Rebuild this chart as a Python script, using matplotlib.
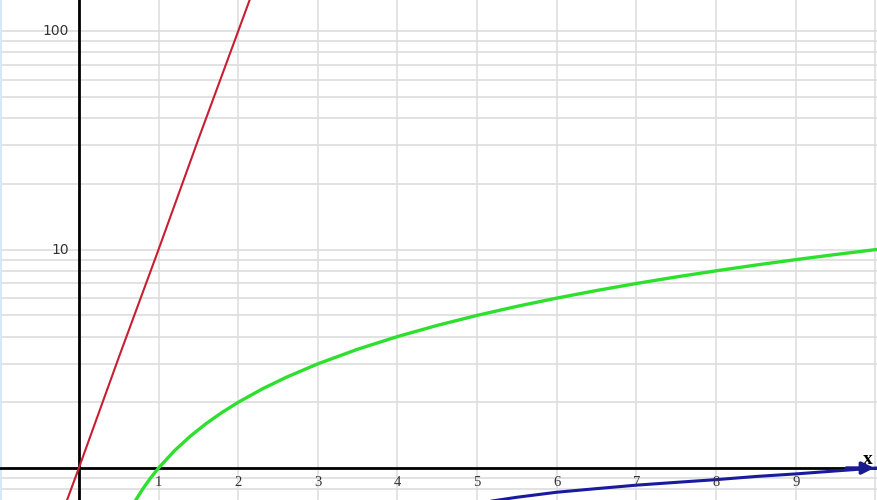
import matplotlib
matplotlib.use('Agg')
import matplotlib.pyplot as plt

# values
red_x = [-1, -0.5, 0, 0.5, 1, 1.5, 2, 2.2]
red_y = [0.1, 0.32, 1, 3.2, 10, 32, 100, 158]

green_x = [0.6, 0.7, 0.8, 0.9, 1, 1.2, 1.4, 1.6, 1.8, 2, 2.3, 2.6, 3, 3.5, 4, 4.5,
           5, 5.5, 6, 6.5, 7, 7.5, 8, 8.5, 9, 9.5, 10]
green_y = [0.6, 0.7, 0.8, 0.9, 1, 1.2, 1.4, 1.6, 1.8, 2, 2.3, 2.6, 3, 3.5, 4, 4.5,
           5, 5.5, 6, 6.5, 7, 7.5, 8, 8.5, 9, 9.5, 10]

blue_x = [4.8, 5, 5.5, 6, 6.5, 7, 7.5, 8, 8.5, 9, 9.5, 10]
blue_y = [0.66, 0.69, 0.735, 0.775, 0.805, 0.835, 0.86, 0.885, 0.915, 0.94, 0.97, 1.0]

x_ticks = [1, 2, 3, 4, 5, 6, 7, 8, 9]
y_ticks = [10, 100]

fig = plt.figure(figsize=(8.77, 5.0), dpi=100)
ax = fig.add_axes([0, 0, 1, 1])
ax.set_yscale('log')
ax.set_xlim(-0.99, 10.02)
ax.set_ylim(0.714, 139)
ax.axis('off')

# grid
grid_col = '#dddddd'
for gx in range(-1, 11):
    ax.axvline(gx, color=grid_col, lw=1.1, zorder=0)
for dec in [0.1, 1, 10, 100]:
    for m in range(1, 10):
        ax.axhline(dec * m, color=grid_col, lw=1.2, zorder=0)
ax.axvline(-0.975, color='#d6e8f5', lw=1.5, zorder=0)

# axes
ax.axhline(1, color='black', lw=2, zorder=2)
ax.axvline(0, color='black', lw=2, zorder=2)

ax.plot(red_x, red_y, color='#c81e32', lw=1.5, zorder=3)
ax.plot(green_x, green_y, color='#2ee02e', lw=2.4, zorder=3)
ax.plot(blue_x, blue_y, color='#1a1aa0', lw=2.2, zorder=3)

ax.annotate('', xy=(10.02, 1), xytext=(9.6, 1),
            arrowprops=dict(arrowstyle='-|>', color='#1a1a90', lw=2.5,
                            mutation_scale=18), zorder=4)

for t in x_ticks:
    ax.text(t, 0.862, str(t), ha='center', va='center', fontsize=10.5,
            family='Liberation Serif', color='#333333')
for t in y_ticks:
    ax.text(-0.12, t, str(t), ha='right', va='center', fontsize=10,
            family='DejaVu Sans', color='#333333')
ax.text(9.91, 1.095, 'x', ha='center', va='center', fontsize=14,
        family='Liberation Serif', fontweight='bold')

fig.savefig('out.png', dpi=100)
